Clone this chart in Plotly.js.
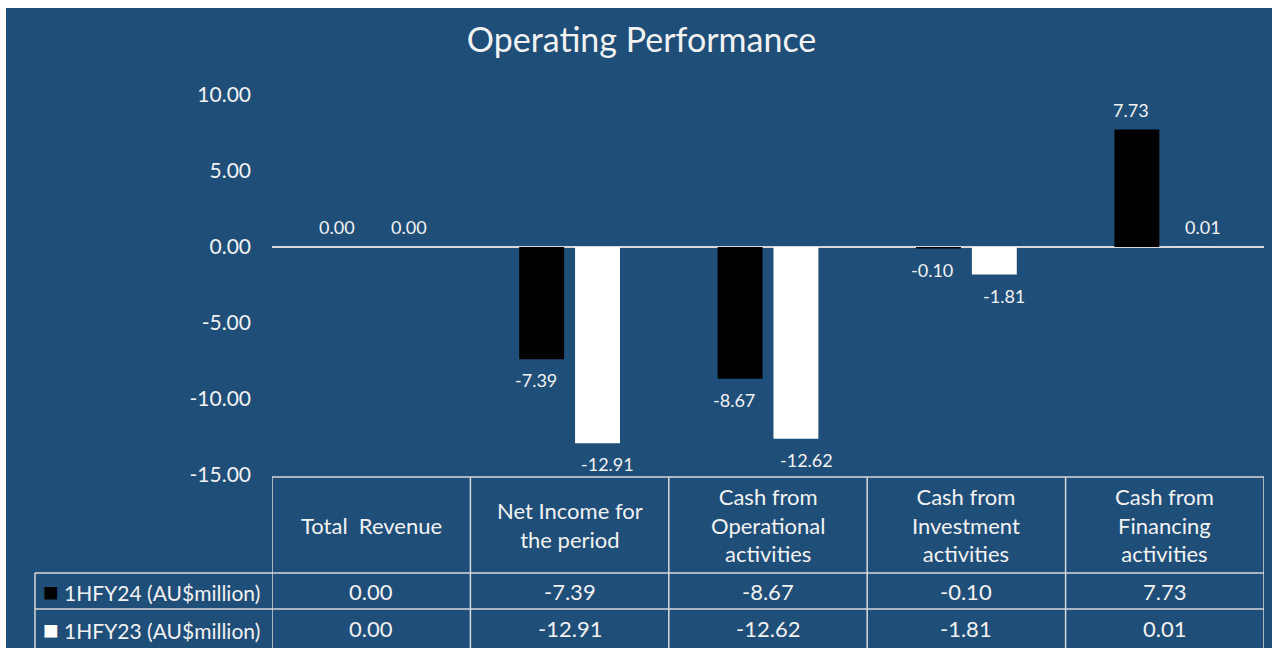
<!DOCTYPE html>
<html>
<head>
<meta charset="utf-8">
<script src="https://cdn.plot.ly/plotly-3.0.1.min.js"></script>
<style>
  html, body { margin: 0; padding: 0; background: #ffffff; }
  #chart { position: absolute; left: 6px; top: 8px; width: 1266px; height: 640px; }
</style>
</head>
<body>
<div id="chart"></div>
<script>
const categories = ["Total  Revenue", "Net Income for<br>the period", "Cash from<br>Operational<br>activities", "Cash from<br>Investment<br>activities", "Cash from<br>Financing<br>activities"];
const seriesNames = ["1HFY24 (AU$million)", "1HFY23 (AU$million)"];
const fy24 = [0.00, -7.39, -8.67, -0.10, 7.73];
const fy23 = [0.00, -12.91, -12.62, -1.81, 0.01];
const yTickVals = [10, 5, 0, -5, -10, -15];
const yTickText = ["10.00", "5.00", "0.00", "-5.00", "-10.00", "-15.00"];

const BG = "#1F4E79";
const TXT = "#F2F2F2";
const GRID = "#D9D9D9";
const FONT = "Lato, 'Open Sans', sans-serif";
const xIdx = categories.map((c, i) => i);

const traces = [
  { type: "bar", x: xIdx, y: fy24, name: seriesNames[0], marker: { color: "#000000" }, hoverinfo: "y" },
  { type: "bar", x: xIdx, y: fy23, name: seriesNames[1], marker: { color: "#FFFFFF" }, hoverinfo: "y" }
];

// table geometry in paper coords (plot area 380px tall, 992px wide)
const yTop = -2 / 380, yHead = -98 / 380, yRow1 = -134 / 380, yBot = -175 / 380;
const xLeftPaper = -237 / 992;

const annotations = [];
const shapes = [];

// data labels
const series = [fy24, fy23];
const xs = [-34, 38];
series.forEach((arr, s) => {
  arr.forEach((v, i) => {
    annotations.push({
      x: i, y: v, xref: "x", yref: "y", text: v.toFixed(2), showarrow: false,
      xshift: xs[s], yshift: v < 0 ? -21 : 20,
      font: { family: FONT, size: 18, color: TXT }
    });
  });
});

// table header texts
categories.forEach((c, i) => {
  annotations.push({
    x: i, y: (yTop + yHead) / 2, xref: "x", yref: "paper", text: c, showarrow: false,
    yanchor: "middle", xanchor: "center", align: "center",
    font: { family: FONT, size: 22, color: TXT }
  });
});
// table rows
const rowMid = [(yHead + yRow1) / 2, (yRow1 + yBot) / 2 + 0.002];
const keyColors = ["#000000", "#FFFFFF"];
series.forEach((arr, s) => {
  annotations.push({
    x: xLeftPaper + 0.006, y: rowMid[s], xref: "paper", yref: "paper",
    text: '<span style="color:' + keyColors[s] + ';font-size:26px">■</span>\u00A0' + seriesNames[s],
    showarrow: false, xanchor: "left", yanchor: "middle",
    font: { family: FONT, size: 21, color: TXT }
  });
  arr.forEach((v, i) => {
    annotations.push({
      x: i, y: rowMid[s], xref: "x", yref: "paper", text: v.toFixed(2), showarrow: false,
      yanchor: "middle", font: { family: FONT, size: 22, color: TXT }
    });
  });
});

// table lines
const ln = { color: GRID, width: 1.5 };
for (let k = 0; k <= categories.length; k++) {
  shapes.push({ type: "line", xref: "x", yref: "paper", x0: k - 0.5, x1: k - 0.5, y0: yTop, y1: yBot, line: ln });
}
shapes.push({ type: "line", xref: "x", yref: "paper", x0: -0.5, x1: categories.length - 0.5, y0: yTop, y1: yTop, line: ln });
shapes.push({ type: "line", xref: "paper", yref: "paper", x0: xLeftPaper, x1: xLeftPaper, y0: yHead, y1: yBot, line: ln });
[yHead, yRow1].forEach(yy => {
  shapes.push({ type: "line", xref: "paper", yref: "paper", x0: xLeftPaper, x1: 1.0, y0: yy, y1: yy, line: ln });
});

const layout = {
  width: 1266, height: 640,
  paper_bgcolor: BG, plot_bgcolor: BG,
  margin: { l: 266, r: 8, t: 87, b: 173 },
  title: { text: "Operating Performance", x: 0.502, xref: "container", xanchor: "center", y: 0.95, yref: "container", yanchor: "middle",
           font: { family: FONT, size: 34, color: TXT } },
  showlegend: false,
  barmode: "group", bargap: 0.437, bargroupgap: 0.196,
  xaxis: { range: [-0.5, 4.5], showticklabels: false, showgrid: false, zeroline: false, showline: false, ticks: "", fixedrange: true },
  yaxis: { range: [-15, 10], tickvals: yTickVals, ticktext: yTickText, showgrid: false,
           zeroline: true, zerolinecolor: GRID, zerolinewidth: 1.5, showline: false, ticks: "",
           ticklabelstandoff: 20,
           tickfont: { family: FONT, size: 21, color: TXT }, fixedrange: true },
  annotations: annotations,
  shapes: shapes,
  font: { family: FONT, color: TXT }
};

Plotly.newPlot("chart", traces, layout, { displayModeBar: false, staticPlot: true });
</script>
</body>
</html>
